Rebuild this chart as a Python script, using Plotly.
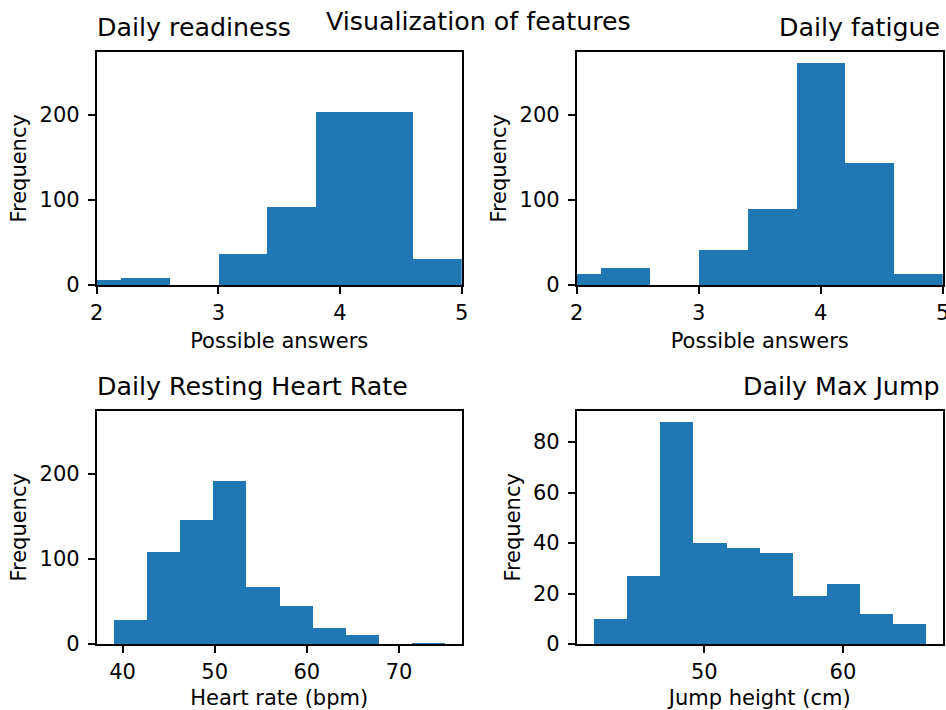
import plotly.graph_objects as go

# Histogram bin edges and counts for each feature
readiness_edges = [1.8, 2.2, 2.6, 3.0, 3.4, 3.8, 4.2, 4.6, 5.0]
readiness_counts = [6, 9, 0, 37, 92, 204, 204, 31]

fatigue_edges = [1.8, 2.2, 2.6, 3.0, 3.4, 3.8, 4.2, 4.6, 5.0]
fatigue_counts = [13, 20, 0, 41, 90, 261, 144, 13]

hr_edges = [39.0, 42.6, 46.2, 49.8, 53.4, 57.0, 60.6, 64.2, 67.8, 71.4, 75.0]
hr_counts = [28, 109, 146, 192, 67, 45, 19, 11, 0, 2]

jump_edges = [42.0, 44.4, 46.8, 49.2, 51.6, 54.0, 56.4, 58.8, 61.2, 63.6, 66.0]
jump_counts = [10, 27, 88, 40, 38, 36, 19, 24, 12, 8]

titles = ["Daily readiness", "Daily fatigue", "Daily Resting Heart Rate", "Daily Max Jump"]
x_labels = ["Possible answers", "Possible answers", "Heart rate (bpm)", "Jump height (cm)"]
y_label = "Frequency"
suptitle = "Visualization of features"

W, H = 946, 710
BLUE = "#1f77b4"
FONT = "DejaVu Sans"
TICK_SIZE = 21
TITLE_SIZE = 25.3

# Panel rectangles in pixels: (left, right, top, bottom)
panels = [
    (96.7, 461.7, 51.7, 285.0),
    (576.7, 942.7, 51.7, 285.0),
    (96.7, 461.7, 410.7, 644.0),
    (576.7, 942.7, 410.7, 644.0),
]

def centers_widths(edges):
    c = [(a + b) / 2 for a, b in zip(edges[:-1], edges[1:])]
    w = [b - a for a, b in zip(edges[:-1], edges[1:])]
    return c, w

def pad_range(edges, frac=0.05):
    span = edges[-1] - edges[0]
    return [edges[0] - frac * span, edges[-1] + frac * span]

shared_ymax = max(max(readiness_counts), max(fatigue_counts), max(hr_counts)) * 1.05

specs = [
    dict(edges=readiness_edges, counts=readiness_counts, xrange=[2, 5], xticks=[2, 3, 4, 5],
         yrange=[0, shared_ymax], dtick=100, align="left"),
    dict(edges=fatigue_edges, counts=fatigue_counts, xrange=[2, 5], xticks=[2, 3, 4, 5],
         yrange=[0, shared_ymax], dtick=100, align="right"),
    dict(edges=hr_edges, counts=hr_counts, xrange=pad_range(hr_edges), xticks=[40, 50, 60, 70],
         yrange=[0, shared_ymax], dtick=100, align="left"),
    dict(edges=jump_edges, counts=jump_counts, xrange=pad_range(jump_edges), xticks=[50, 60],
         yrange=[0, max(jump_counts) * 1.05], dtick=20, align="right"),
]

fig = go.Figure()
annotations = []

for i, (spec, (l, r, t, b)) in enumerate(zip(specs, panels)):
    n = "" if i == 0 else str(i + 1)
    c, w = centers_widths(spec["edges"])
    fig.add_trace(go.Bar(
        x=c, y=spec["counts"], width=w,
        marker=dict(color=BLUE, line=dict(width=0)),
        xaxis="x" + n, yaxis="y" + n, showlegend=False,
        hoverinfo="x+y",
    ))
    axis_common = dict(
        showline=True, mirror=True, linecolor="black", linewidth=1.6,
        ticks="outside", ticklen=7, tickwidth=1.6, tickcolor="black",
        showgrid=False, zeroline=False, automargin=False,
        ticklabeloverflow="allow",
        tickfont=dict(family=FONT, size=TICK_SIZE, color="black"),
    )
    fig.update_layout(**{
        "xaxis" + n: dict(
            axis_common,
            domain=[l / W, r / W], anchor="y" + n,
            range=spec["xrange"], tickmode="array", tickvals=spec["xticks"],
            ticktext=[str(v) for v in spec["xticks"]],
            ticklabelstandoff=1,
            title=dict(text=x_labels[i], font=dict(family=FONT, size=TICK_SIZE, color="black"), standoff=9),
        ),
        "yaxis" + n: dict(
            axis_common,
            domain=[1 - b / H, 1 - t / H], anchor="x" + n,
            range=spec["yrange"], dtick=spec["dtick"], tick0=0,
            ticklabelstandoff=4,
            title=dict(text=y_label, font=dict(family=FONT, size=TICK_SIZE, color="black"), standoff=7),
        ),
    })
    if spec["align"] == "left":
        ax, anchor = (l - 2.0) / W, "left"
    else:
        ax, anchor = (r - 0.5) / W, "right"
    annotations.append(dict(
        text=titles[i], x=ax, xanchor=anchor, xref="paper",
        y=1 - (t - 24.0) / H, yanchor="middle", yref="paper",
        showarrow=False, font=dict(family=FONT, size=TITLE_SIZE, color="black"),
    ))

annotations.append(dict(
    text=suptitle, x=479 / W, xanchor="center", xref="paper",
    y=1 - 21.5 / H, yanchor="middle", yref="paper",
    showarrow=False, font=dict(family=FONT, size=TITLE_SIZE, color="black"),
))

fig.update_layout(
    width=W, height=H,
    margin=dict(l=0, r=0, t=0, b=0),
    paper_bgcolor="white", plot_bgcolor="white",
    bargap=0, barmode="overlay",
    annotations=annotations,
    font=dict(family=FONT, color="black"),
)

fig.write_html("out.html")
